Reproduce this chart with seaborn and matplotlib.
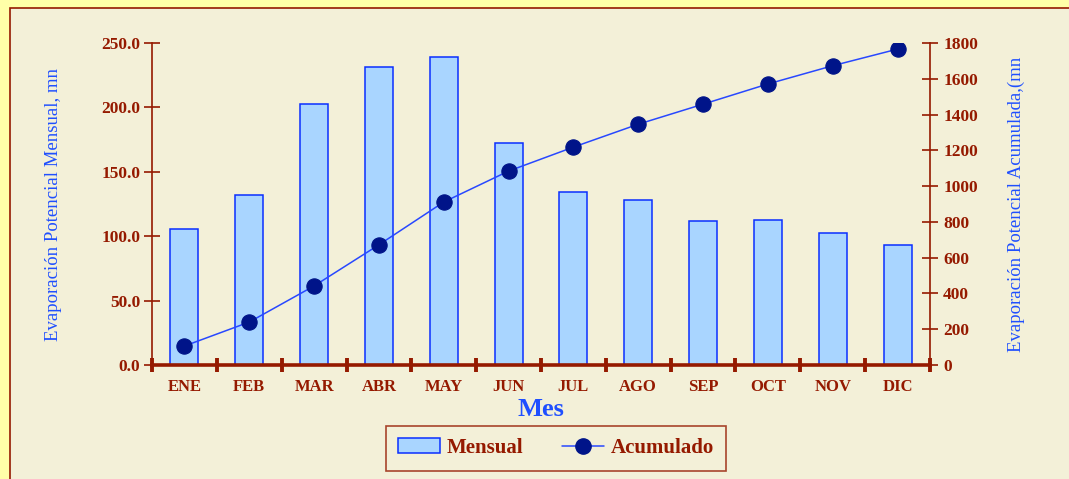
import numpy as np
import seaborn as sns
import matplotlib.pyplot as plt
from matplotlib.patches import Rectangle
from matplotlib.lines import Line2D

# Datos
meses = ['ENE', 'FEB', 'MAR', 'ABR', 'MAY', 'JUN', 'JUL', 'AGO', 'SEP', 'OCT', 'NOV', 'DIC']
mensual = [105.6, 132.0, 203.0, 231.5, 239.0, 172.5, 134.5, 128.0, 111.5, 112.5, 102.5, 93.0]
acumulado = [106, 240, 442, 672, 911, 1084, 1218, 1346, 1458, 1571, 1673, 1766]

rojo = '#951a00'
azul_txt = '#1f4fff'
fondo = '#f3f0d8'

sns.set_style('white')
plt.rcParams['font.family'] = ['Liberation Serif', 'DejaVu Serif']

fig = plt.figure(figsize=(10.69, 4.79), dpi=100)
fig.patch.set_facecolor('#ffffa8')
fig.add_artist(Rectangle((10 / 1069, -0.05), 1.1, 1.05 - 8 / 479,
                         transform=fig.transFigure, facecolor=fondo,
                         edgecolor=rojo, linewidth=1.2, zorder=0))

ax = fig.add_axes([152 / 1069, 1 - 365 / 479, (930 - 152) / 1069, (365 - 43) / 479])
ax.set_facecolor('none')

sns.barplot(x=meses, y=mensual, ax=ax, width=0.43, color='#a9d5ff',
            edgecolor='#0a2eff', linewidth=1.1, saturation=1)

ax2 = ax.twinx()
sns.pointplot(x=meses, y=acumulado, ax=ax2, errorbar=None, color='#2848ff',
              markers='o', linestyles='-', linewidth=1.1, markersize=11,
              markerfacecolor='#001489', markeredgecolor='#001489')

ax.set_xlim(-0.5, 11.5)
ax.set_ylim(0, 250)
ax2.set_ylim(0, 1800)
ax.set_yticks(np.arange(0, 251, 50))
ax.set_yticklabels([f'{v:.1f}' for v in np.arange(0, 251, 50)])
ax2.set_yticks(np.arange(0, 1801, 200))

for a in (ax, ax2):
    for s in a.spines.values():
        s.set_visible(False)

ax.spines['left'].set_visible(True)
ax.spines['left'].set_color(rojo)
ax.spines['left'].set_linewidth(1.2)
ax.spines['bottom'].set_visible(True)
ax.spines['bottom'].set_color(rojo)
ax.spines['bottom'].set_linewidth(2.6)
ax.spines['bottom'].set_zorder(5)
ax2.spines['right'].set_visible(True)
ax2.spines['right'].set_color(rojo)
ax2.spines['right'].set_linewidth(1.2)

ax.set_xticks(np.arange(12))
ax.set_xticklabels(meses)
ax.set_xticks(np.arange(-0.5, 12, 1), minor=True)
ax.tick_params(axis='x', which='major', length=0, pad=10, labelsize=12,
               labelcolor=rojo, bottom=True)
ax.tick_params(axis='x', which='minor', length=10, width=2.8, direction='inout',
               color=rojo, bottom=True)
ax.tick_params(axis='y', length=11, width=1.2, direction='inout', color=rojo,
               labelcolor=rojo, labelsize=12.5, pad=3, left=True)
ax2.tick_params(axis='y', length=11, width=1.2, direction='inout', color=rojo,
                labelcolor=rojo, labelsize=12.5, pad=4, right=True)
for lbl in ax.get_xticklabels() + ax.get_yticklabels() + ax2.get_yticklabels():
    lbl.set_fontweight('bold')

ax.set_xlabel('Mes', fontsize=19, fontweight='bold', color=azul_txt, labelpad=2)
ax.set_ylabel('Evaporación Potencial Mensual, mn', fontsize=13.5,
              color=azul_txt, labelpad=28)
ax2.set_ylabel('Evaporación Potencial Acumulada,(mn', fontsize=13.5,
               color=azul_txt, labelpad=21)
ax2.set_xlabel('')

handles = [
    Rectangle((0, 0), 1, 1, facecolor='#a9d5ff', edgecolor='#0a2eff', linewidth=1.1),
    Line2D([0], [0], color='#2848ff', linewidth=1.1, marker='o', markersize=11,
           markerfacecolor='#001489', markeredgecolor='#001489'),
]
leg = fig.legend(handles, ['Mensual', 'Acumulado'], loc='center',
                 bbox_to_anchor=(556 / 1069, 1 - 448 / 479), ncol=2,
                 frameon=True, fancybox=False, facecolor=fondo, edgecolor=rojo,
                 prop={'weight': 'bold', 'size': 15}, handlelength=2.0,
                 columnspacing=1.9, borderpad=0.6, borderaxespad=0,
                 handletextpad=0.3)
leg.get_frame().set_linewidth(1.2)
for t in leg.get_texts():
    t.set_color(rojo)

fig.savefig('out.png', dpi=100, facecolor=fig.get_facecolor())
